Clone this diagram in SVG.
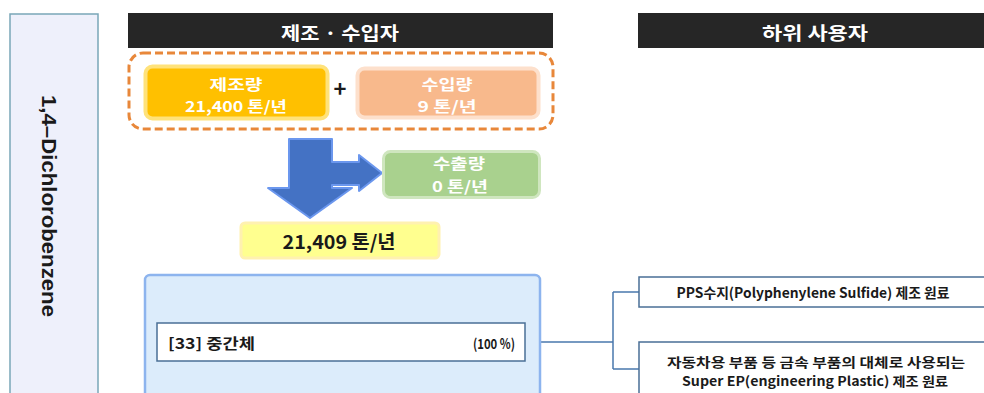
<svg xmlns="http://www.w3.org/2000/svg" width="984" height="393" viewBox="0 0 984 393">
<style>
.k{font-family:"Noto Sans CJK KR","Liberation Sans",sans-serif;font-weight:bold}
.w{fill:#ffffff}
.hd{font-size:18px}
.bx{font-size:15px}
.dark{fill:#1a1a1a}
.ub{fill:#ffffff;stroke:#4a6f96;stroke-width:1.5}
.cn{fill:none;stroke:#4a78ad;stroke-width:1.5}
</style>
<rect width="984" height="393" fill="#ffffff"/>
<g id="substance">
<rect x="10" y="14" width="88" height="390" fill="#eef0fb" stroke="#79a7b8" stroke-width="1.5"/>
<text transform="translate(42,206) rotate(90)" text-anchor="middle" font-family="Liberation Sans,Arial,sans-serif" font-weight="bold" font-size="20" fill="#1a1a1a" textLength="222" lengthAdjust="spacingAndGlyphs">1,4–Dichlorobenzene</text>
</g>
<g id="header-mfr">
<rect x="128" y="13" width="425" height="35" fill="#262626"/>
<text class="k w hd" x="340" y="40" text-anchor="middle" textLength="118" lengthAdjust="spacingAndGlyphs">제조 · 수입자</text>
</g>
<g id="header-user">
<rect x="638" y="13" width="346" height="35" fill="#262626"/>
<text class="k w hd" x="815" y="40" text-anchor="middle" textLength="106" lengthAdjust="spacingAndGlyphs">하위 사용자</text>
</g>
<g id="supply">
<rect x="129" y="53" width="424" height="76" rx="14" fill="none" stroke="#e8873a" stroke-width="3" stroke-dasharray="8 4"/>
</g>
<g id="production">
<rect x="145.500" y="66.500" width="182" height="52" rx="7" fill="#ffc000" stroke="#ffe27a" stroke-width="4"/>
<text class="k w bx" x="236" y="90" text-anchor="middle" textLength="53" lengthAdjust="spacingAndGlyphs">제조량</text>
<text class="k w bx" x="236" y="112" text-anchor="middle" textLength="102" lengthAdjust="spacingAndGlyphs">21,400 톤/년</text>
</g>
<text class="k dark" x="340" y="97" text-anchor="middle" font-size="22">+</text>
<g id="import">
<rect x="357.500" y="68.500" width="181" height="49" rx="7" fill="#f8b98c" stroke="#fde0cc" stroke-width="4"/>
<text class="k w bx" x="447" y="90" text-anchor="middle" textLength="51" lengthAdjust="spacingAndGlyphs">수입량</text>
<text class="k w bx" x="447" y="112" text-anchor="middle" textLength="59" lengthAdjust="spacingAndGlyphs">9 톤/년</text>
</g>
<g id="connectors">
<path d="M289,139 L332,139 L332,162 L359,162 L359,155 L382,173 L359,191 L359,185 L332,185 L332,188 L352,188 L310,218 L268,188 L289,188 Z" fill="#4472c4" stroke="#6b97ee" stroke-width="2" stroke-linejoin="round"/>
<path class="cn" d="M525,342 L613,342 M613,292 L613,369 M613,292 L639,292 M613,369 L639,369"/>
</g>
<g id="export">
<rect x="383.500" y="151.500" width="156" height="46" rx="7" fill="#a9d18e" stroke="#cfe6bf" stroke-width="3"/>
<text class="k w bx" x="459" y="169" text-anchor="middle" textLength="52" lengthAdjust="spacingAndGlyphs">수출량</text>
<text class="k w bx" x="460" y="192" text-anchor="middle" textLength="56" lengthAdjust="spacingAndGlyphs">0 톤/년</text>
</g>
<g id="total">
<rect x="241" y="223" width="198" height="35" rx="4" fill="#ffff8f" stroke="#fff1b0" stroke-width="3"/>
<text class="k dark" x="339" y="249" text-anchor="middle" font-size="19" textLength="113" lengthAdjust="spacingAndGlyphs">21,409 톤/년</text>
</g>
<g id="use-area">
<rect x="145" y="275" width="395" height="130" rx="5" fill="#dcecfb" stroke="#8db4ee" stroke-width="2.5"/>
</g>
<g id="intermediate">
<rect class="ub" x="157" y="323" width="368" height="38"/>
<text class="k dark" x="168" y="349" font-size="15" textLength="87" lengthAdjust="spacingAndGlyphs">[33] 중간체</text>
<text class="k dark" x="515" y="349" text-anchor="end" font-size="14" textLength="42" lengthAdjust="spacingAndGlyphs">(100 %)</text>
</g>
<g id="use-pps">
<rect class="ub" x="639" y="277" width="350" height="30"/>
<text class="k dark" x="813" y="298" text-anchor="middle" font-size="14" textLength="273" lengthAdjust="spacingAndGlyphs">PPS수지(Polyphenylene Sulfide) 제조 원료</text>
</g>
<g id="use-ep">
<rect class="ub" x="639" y="342" width="350" height="60"/>
<text class="k dark" x="816" y="367" text-anchor="middle" font-size="13" textLength="298" lengthAdjust="spacingAndGlyphs">자동차용 부품 등 금속 부품의 대체로 사용되는</text>
<text class="k dark" x="815" y="386" text-anchor="middle" font-size="13" textLength="266" lengthAdjust="spacingAndGlyphs">Super EP(engineering Plastic) 제조 원료</text>
</g>
</svg>
